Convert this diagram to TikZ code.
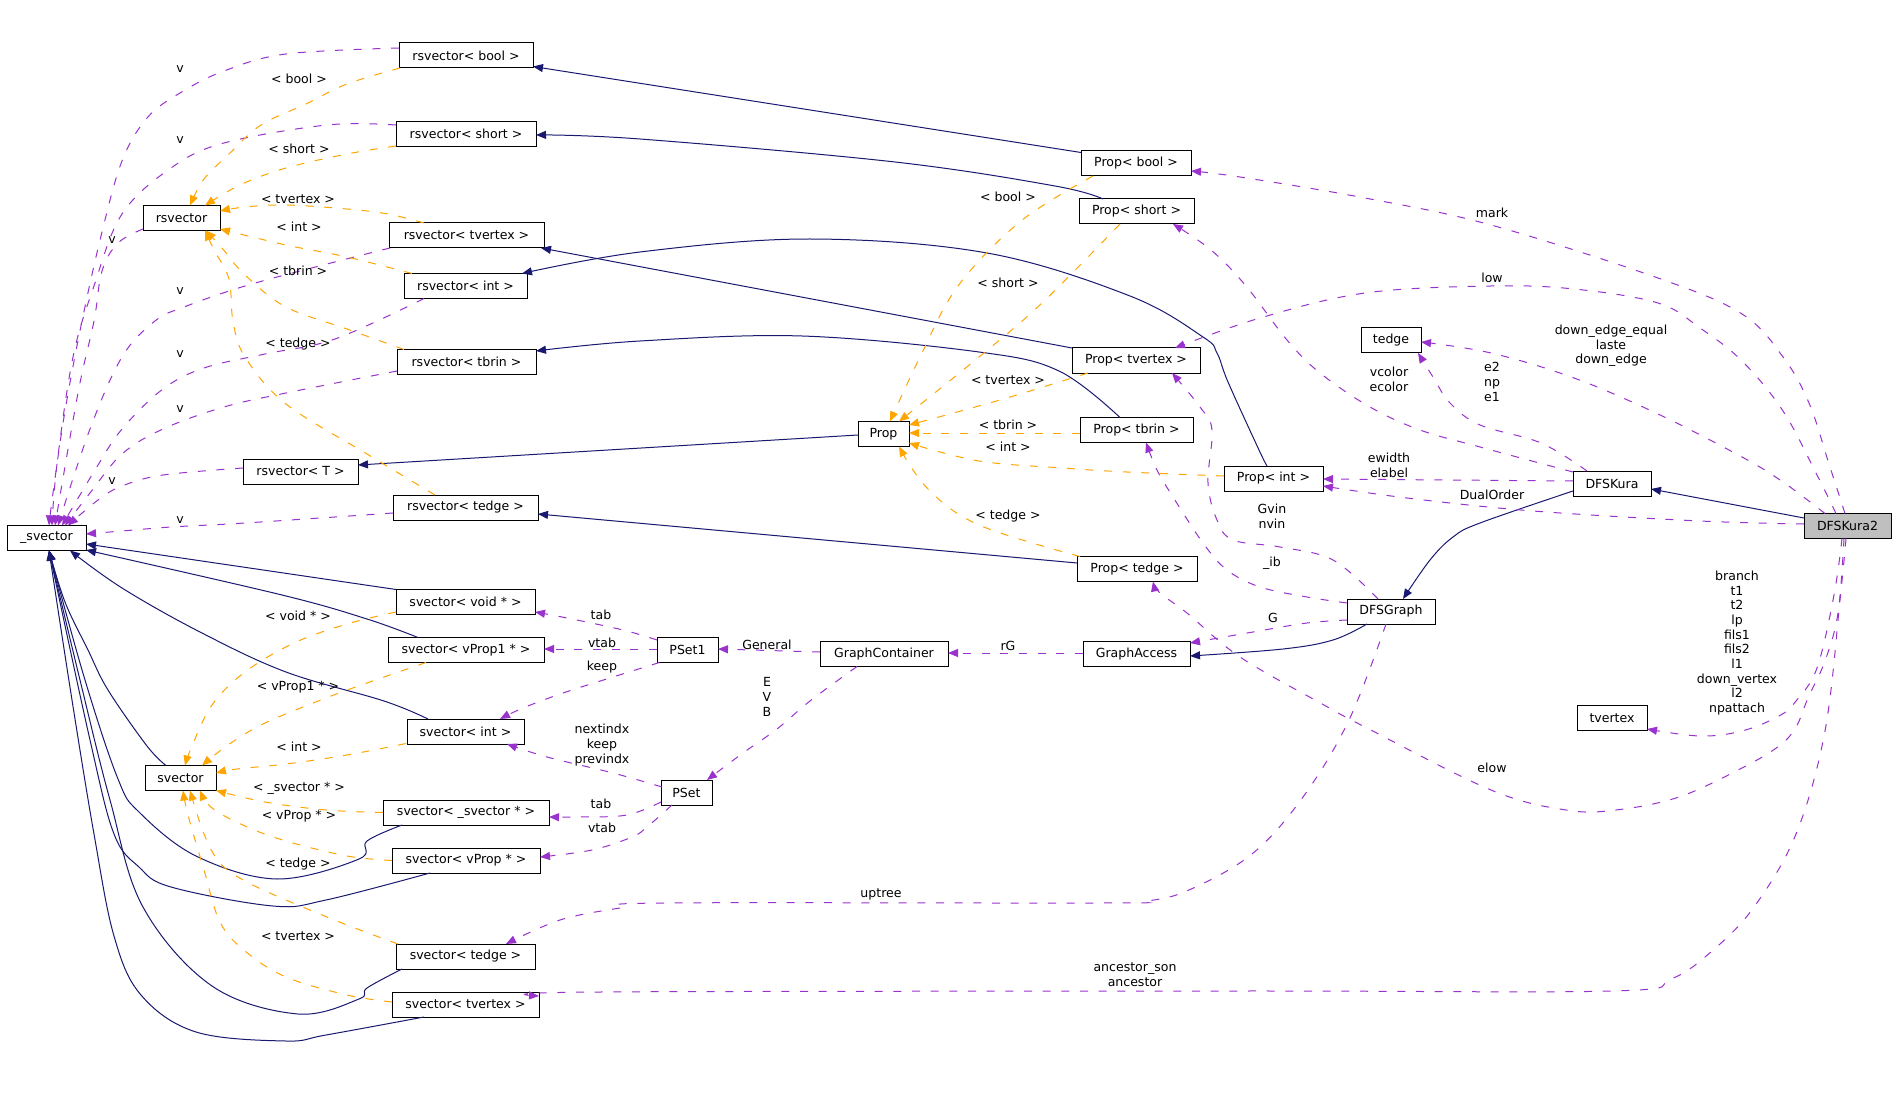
\documentclass[tikz,border=0pt]{standalone}
\usepackage{fontspec}
\setmainfont{DejaVu Sans}
\usetikzlibrary{arrows.meta}
\definecolor{navy}{RGB}{25,25,112}
\definecolor{purp}{RGB}{154,50,205}
\definecolor{orng}{RGB}{255,165,0}
\definecolor{grayfill}{RGB}{191,191,191}
\begin{document}
\begin{tikzpicture}[x=0.75pt,y=-0.75pt,
 cls/.style={draw=black,line width=0.75pt,minimum height=18.75pt,inner sep=0pt,font=\fontsize{9.4}{11}\selectfont},
 bw/.style={minimum width=#1*0.75pt},
 lab/.style={inner sep=0pt,align=center,font=\fontsize{9.4}{11}\selectfont},
 inh/.style={draw=navy,line width=0.75pt,-{Triangle[length=7.5pt,width=6pt]}},
 use/.style={draw=purp,line width=0.75pt,dash pattern=on 6pt off 8pt,-{Triangle[length=7.5pt,width=6pt]}},
 tmpl/.style={draw=orng,line width=0.75pt,dash pattern=on 6pt off 8pt,-{Triangle[length=7.5pt,width=6pt]}},
 sm/.style={smooth,tension=0.6}]
\fill[white] (0,0) rectangle (1896,1116);
\useasboundingbox (0,0) rectangle (1896,1116);
% nodes
\node[cls,bw=134] (rsvbool) at (466,55.5) {rsvector< bool >};
\node[cls,bw=140] (rsvshort) at (466,134) {rsvector< short >};
\node[cls,bw=77] (rsv) at (181.5,218) {rsvector};
\node[cls,bw=155] (rsvtv) at (466.5,235.5) {rsvector< tvertex >};
\node[cls,bw=123] (rsvint) at (465.5,286) {rsvector< int >};
\node[cls,bw=139] (rsvtb) at (466.5,362) {rsvector< tbrin >};
\node[cls,bw=115] (rsvT) at (300.5,471.5) {rsvector< T >};
\node[cls,bw=145] (rsvte) at (465.5,507.5) {rsvector< tedge >};
\node[cls,bw=79] (usv) at (46.5,538) {\_svector};
\node[cls,bw=139] (svvoid) at (465.5,602) {svector< void * >};
\node[cls,bw=156] (svvp1) at (466,650) {svector< vProp1 * >};
\node[cls,bw=117] (svint) at (465.5,731.5) {svector< int >};
\node[cls,bw=71] (sv) at (180.5,778) {svector};
\node[cls,bw=166] (svsv) at (466,812.5) {svector< \_svector * >};
\node[cls,bw=148] (svvp) at (466,860.5) {svector< vProp * >};
\node[cls,bw=139] (svte) at (465.5,956.5) {svector< tedge >};
\node[cls,bw=147] (svtv) at (465.5,1004.5) {svector< tvertex >};
\node[cls,bw=110] (pbool) at (1136,163.5) {Prop< bool >};
\node[cls,bw=115] (pshort) at (1136.5,211.5) {Prop< short >};
\node[cls,bw=128] (ptv) at (1136,360.5) {Prop< tvertex >};
\node[cls,bw=51] (prop) at (883.5,434) {Prop};
\node[cls,bw=113] (ptb) at (1136.5,430) {Prop< tbrin >};
\node[cls,bw=99] (pint) at (1273.5,478.5) {Prop< int >};
\node[cls,bw=120] (pte) at (1137,569) {Prop< tedge >};
\node[cls,bw=61] (pset1) at (687.5,650) {PSet1};
\node[cls,bw=128] (gc) at (884,654) {GraphContainer};
\node[cls,bw=107] (ga) at (1136.5,654) {GraphAccess};
\node[cls,bw=51] (pset) at (686.5,792.5) {PSet};
\node[cls,bw=60] (tedge) at (1391,340.5) {tedge};
\node[cls,bw=78] (dk) at (1612,483.5) {DFSKura};
\node[cls,bw=87,fill=grayfill] (dk2) at (1847.5,526) {DFSKura2};
\node[cls,bw=88] (dg) at (1391,611.5) {DFSGraph};
\node[cls,bw=70] (tvertex) at (1612,718) {tvertex};
% inheritance (navy)
\draw[inh] ([shift={(-55,-11)}]pbool.center) -- ([shift={(67,11)}]rsvbool.center);
\draw[inh] plot[sm] coordinates {([shift={(-33.5,-12.5)}]pshort.center) (1055,186) (895,162) (640,139) ([shift={(70,1)}]rsvshort.center)};
\draw[inh] ([shift={(-64,-12.5)}]ptv.center) -- ([shift={(74.5,12.5)}]rsvtv.center);
\draw[inh] plot[sm] coordinates {([shift={(-6.5,-12.5)}]pint.center) (1259,450) (1228,382) (1217,353) (1203,337) (1130,296) (987,253) (810,239) (640,252) ([shift={(56.5,-12.5)}]rsvint.center)};
\draw[inh] plot[sm] coordinates {([shift={(-16.5,-12.5)}]ptb.center) (1059,371) (979,352) (802,336) (640,341) ([shift={(69.5,-11)}]rsvtb.center)};
\draw[inh] ([shift={(-25.5,1)}]prop.center) -- ([shift={(57.5,-6.5)}]rsvT.center);
\draw[inh] ([shift={(-60,-6)}]pte.center) -- ([shift={(72.5,6.5)}]rsvte.center);
\draw[inh] ([shift={(-43.5,-8)}]dk2.center) -- ([shift={(39,5.5)}]dk.center);
\draw[inh] plot[sm] coordinates {([shift={(-39,7.5)}]dk.center) (1480,523) (1453,537) (1430,560) ([shift={(12,-12.5)}]dg.center)};
\draw[inh] plot[sm] coordinates {([shift={(-24,12.5)}]dg.center) (1333,640) (1283,649) ([shift={(53.5,2)}]ga.center)};
\draw[inh] plot[sm] coordinates {([shift={(-14.5,-12.5)}]sv.center) (147,746) (108,690) (88,650) (65,602) ([shift={(2.5,12.5)}]usv.center)};
\draw[inh] ([shift={(-69.5,-12.5)}]svvoid.center) -- ([shift={(39.5,6)}]usv.center);
\draw[inh] plot[sm] coordinates {([shift={(-48,-12.5)}]svvp1.center) (367,619) (282,595) ([shift={(39.5,12)}]usv.center)};
\draw[inh] plot[sm] coordinates {([shift={(-37.5,-12.5)}]svint.center) (384,701) (286,672) (200,632) (122,588) ([shift={(23.5,12.5)}]usv.center)};
\draw[inh] plot[sm] coordinates {([shift={(-64,12.5)}]svsv.center) (367,841) (359,859) (277,879) (196,856) (139,812) (118,779) (85,680) ([shift={(2.5,12.5)}]usv.center)};
\draw[inh] plot[sm] coordinates {([shift={(-36,12.5)}]svvp.center) (326,900) (273,906) (171,887) (139,867) (114,834) (90,740) ([shift={(2.5,12.5)}]usv.center)};
\draw[inh] plot[sm] coordinates {([shift={(-63.5,12.5)}]svte.center) (367,988) (359,999) (298,1014) (212,986) (143,907) (110,800) (80,680) ([shift={(2.5,12.5)}]usv.center)};
\draw[inh] plot[sm] coordinates {([shift={(-41.5,12.5)}]svtv.center) (326,1035) (286,1041) (196,1032) (141,995) (114,936) (94,834) (72,700) ([shift={(2.5,12.5)}]usv.center)};
% usage v -> _svector
\draw[use] plot[sm] coordinates {([shift={(-67,-7.5)}]rsvbool.center) (286,54) (224,71) (180,93) (147,118) (122,161) (102,232) (82,321) (65,411) (53,493) ([shift={(2.5,-12.5)}]usv.center)};
\draw[use] plot[sm] coordinates {([shift={(-70,-9)}]rsvshort.center) (327,125) (224,143) (171,168) (122,214) (94,286) (73,357) (57,464) ([shift={(5.5,-12.5)}]usv.center)};
\draw[use] plot[sm] coordinates {([shift={(-38.5,11)}]rsv.center) (118,243) (102,271) (94,321) (78,393) ([shift={(8.5,-12.5)}]usv.center)};
\draw[use] plot[sm] coordinates {([shift={(-76.5,12.5)}]rsvtv.center) (327,264) (245,286) (184,307) (155,321) (122,357) (90,429) ([shift={(11.5,-12.5)}]usv.center)};
\draw[use] plot[sm] coordinates {([shift={(-41.5,12.5)}]rsvint.center) (335,339) (265,354) (204,368) (163,389) (122,429) (95,470) ([shift={(15.5,-12.5)}]usv.center)};
\draw[use] plot[sm] coordinates {([shift={(-69.5,9)}]rsvtb.center) (286,393) (224,407) (163,429) (122,454) (90,493) ([shift={(18.5,-12.5)}]usv.center)};
\draw[use] plot[sm] coordinates {([shift={(-57.5,-3.5)}]rsvT.center) (163,475) (122,486) (98,500) ([shift={(21.5,-12.5)}]usv.center)};
\draw[use] plot[sm] coordinates {([shift={(-72.5,5.5)}]rsvte.center) (245,523) (171,527) (122,531) ([shift={(39.5,-4)}]usv.center)};
\node[lab] (lv1) at (180,69) {v};
\node[lab] (lv2) at (180,140) {v};
\node[lab] (lv3) at (112,240) {v};
\node[lab] (lv4) at (180,291) {v};
\node[lab] (lv5) at (180,354) {v};
\node[lab] (lv6) at (180,409) {v};
\node[lab] (lv7) at (112,481) {v};
\node[lab] (lv8) at (180,520) {v};
% template -> rsvector
\draw[tmpl] plot[sm] coordinates {([shift={(-66,12.5)}]rsvbool.center) (347,84) (306,104) (261,125) (229,154) (204,179) ([shift={(8.5,-12.5)}]rsv.center)};
\draw[tmpl] plot[sm] coordinates {([shift={(-70,12)}]rsvshort.center) (347,154) (286,168) (240,185) ([shift={(23.5,-12.5)}]rsv.center)};
\draw[tmpl] plot[sm] coordinates {([shift={(-42.5,-12.5)}]rsvtv.center) (388,214) (347,209) (286,205) (245,207) ([shift={(38.5,-7)}]rsv.center)};
\draw[tmpl] plot[sm] coordinates {([shift={(-53.5,-12.5)}]rsvint.center) (347,257) (286,245) ([shift={(38.5,11)}]rsv.center)};
\draw[tmpl] plot[sm] coordinates {([shift={(-62.5,-12.5)}]rsvtb.center) (347,329) (286,307) (245,275) (222,248) ([shift={(24.5,12.5)}]rsv.center)};
\draw[tmpl] plot[sm] coordinates {([shift={(-30.5,-12.5)}]rsvte.center) (367,454) (286,404) (245,357) (233,321) (229,279) (214,250) ([shift={(23.5,12.5)}]rsv.center)};
\node[lab] (lr1) at (299,79) {< bool >};
\node[lab] (lr2) at (299,149) {< short >};
\node[lab] (lr3) at (298,199) {< tvertex >};
\node[lab] (lr4) at (299,227) {< int >};
\node[lab] (lr5) at (298,271) {< tbrin >};
\node[lab] (lr6) at (298,344) {< tedge >};
% template -> svector
\draw[tmpl] plot[sm] coordinates {([shift={(-69.5,10)}]svvoid.center) (347,624) (294,643) (245,672) (212,705) (192,746) ([shift={(4.5,-12.5)}]sv.center)};
\draw[tmpl] plot[sm] coordinates {([shift={(-40,12.5)}]svvp1.center) (367,683) (326,698) (265,723) (228,745) ([shift={(21.5,-12.5)}]sv.center)};
\draw[tmpl] plot[sm] coordinates {([shift={(-59.5,12)}]svint.center) (347,755) (286,764) (237,769) ([shift={(35.5,-5)}]sv.center)};
\draw[tmpl] plot[sm] coordinates {([shift={(-83,0)}]svsv.center) (326,810) (265,802) ([shift={(35.5,12.5)}]sv.center)};
\draw[tmpl] plot[sm] coordinates {([shift={(-74,0)}]svvp.center) (347,856) (286,841) (245,826) (212,808) ([shift={(19.5,12.5)}]sv.center)};
\draw[tmpl] plot[sm] coordinates {([shift={(-67.5,-12.5)}]svte.center) (347,925) (286,900) (245,881) (220,863) (204,834) ([shift={(9.5,12.5)}]sv.center)};
\draw[tmpl] plot[sm] coordinates {([shift={(-73.5,-2.5)}]svtv.center) (347,995) (286,977) (245,951) (220,922) (204,870) (188,815) ([shift={(2.5,12.5)}]sv.center)};
\node[lab] (ls1) at (298,616) {< void * >};
\node[lab] (ls2) at (298,687) {< vProp1 * >};
\node[lab] (ls3) at (299,747) {< int >};
\node[lab] (ls4) at (299,788) {< \_svector * >};
\node[lab] (ls5) at (299,816) {< vProp * >};
\node[lab] (ls6) at (298,864) {< tedge >};
\node[lab] (ls7) at (298,936) {< tvertex >};
% template -> Prop
\draw[tmpl] plot[sm] coordinates {([shift={(-43,12.5)}]pbool.center) (1021,221) (958,286) (920,357) ([shift={(6.5,-12.5)}]prop.center)};
\draw[tmpl] plot[sm] coordinates {([shift={(-16.5,12.5)}]pshort.center) (1042,303) (979,357) ([shift={(15.5,-12.5)}]prop.center)};
\draw[tmpl] plot[sm] coordinates {([shift={(-48,12.5)}]ptv.center) (1000,400) ([shift={(25.5,-9)}]prop.center)};
\draw[tmpl] ([shift={(-56.5,3)}]ptb.center) -- ([shift={(25.5,-1)}]prop.center);
\draw[tmpl] plot[sm] coordinates {([shift={(-49.5,-2.5)}]pint.center) (1127,472) (1063,468) (979,461) ([shift={(25.5,9)}]prop.center)};
\draw[tmpl] plot[sm] coordinates {([shift={(-57,-12.5)}]pte.center) (979,525) (928,489) ([shift={(15.5,12.5)}]prop.center)};
\node[lab] (lp1) at (1008,197) {< bool >};
\node[lab] (lp2) at (1008,283) {< short >};
\node[lab] (lp3) at (1008,380) {< tvertex >};
\node[lab] (lp4) at (1008,425) {< tbrin >};
\node[lab] (lp5) at (1008,447) {< int >};
\node[lab] (lp6) at (1008,516) {< tedge >};
% usage (purple)
\draw[use] plot[sm] coordinates {([shift={(-30.5,-10)}]pset1.center) (623,630) (567,618) ([shift={(69.5,10)}]svvoid.center)};
\draw[use] ([shift={(-30.5,-1)}]pset1.center) -- ([shift={(78,-1)}]svvp1.center);
\draw[use] plot[sm] coordinates {([shift={(-28,12.5)}]pset1.center) (613,677) (563,693) (523,708) ([shift={(34.5,-12.5)}]svint.center)};
\draw[use] plot[sm] coordinates {([shift={(-24.5,-5.5)}]pset.center) (613,773) (547,757) ([shift={(41.5,12.5)}]svint.center)};
\draw[use] plot[sm] coordinates {([shift={(-25.5,9.5)}]pset.center) (627,815) (580,817) ([shift={(83,4.5)}]svsv.center)};
\draw[use] plot[sm] coordinates {([shift={(-14.5,12.5)}]pset.center) (647,827) (632,837) (592,850) ([shift={(74,-3.5)}]svvp.center)};
\draw[use] ([shift={(-64,-2)}]gc.center) -- ([shift={(30.5,-1)}]pset1.center);
\draw[use] plot[sm] coordinates {([shift={(-27,12.5)}]gc.center) (810,701) (777,729) (743,753) ([shift={(20.5,-12.5)}]pset.center)};
\draw[use] ([shift={(-53.5,-1)}]ga.center) -- ([shift={(64,-1)}]gc.center);
\draw[use] plot[sm] coordinates {([shift={(-44,8.5)}]dg.center) (1307,623) (1253,632) ([shift={(53.5,-11)}]ga.center)};
\draw[use] plot[sm] coordinates {([shift={(-13,-12.5)}]dg.center) (1333,560) (1280,547) (1233,540) (1217,520) (1208,483) (1212,430) (1200,407) ([shift={(36,12.5)}]ptv.center)};
\draw[use] plot[sm] coordinates {([shift={(-44,-8.5)}]dg.center) (1307,597) (1260,587) (1227,570) (1203,543) (1173,497) (1157,470) ([shift={(9.5,12.5)}]ptb.center)};
\draw[use] plot[sm] coordinates {([shift={(-5,12.5)}]dg.center) (1349,720) (1303,797) (1252,854) (1189,890) (1147,901) (1100,903) (663,903) (620,908) (560,920) ([shift={(40.5,-12.5)}]svte.center)};
\draw[use] plot[sm] coordinates {([shift={(-1.5,12.5)}]dk2.center) (1840,600) (1825,731) (1796,834) (1754,907) (1712,951) (1671,979) (1612,991) (1240,991) (600,992) ([shift={(73.5,-8.5)}]svtv.center)};
\draw[use] plot[sm] coordinates {([shift={(-5.5,12.5)}]dk2.center) (1834,595) (1817,668) (1796,701) (1779,716) (1742,731) (1700,736) ([shift={(35,11)}]tvertex.center)};
\draw[use] plot[sm] coordinates {([shift={(-3.5,12.5)}]dk2.center) (1838,613) (1825,661) (1808,698) (1796,727) (1779,746) (1742,768) (1679,797) (1616,810) (1566,810) (1491,790) (1365,727) (1324,705) (1240,657) (1187,613) (1160,593) ([shift={(16,12.5)}]pte.center)};
\draw[use] plot[sm] coordinates {([shift={(-2.5,-12.5)}]dk2.center) (1829,464) (1809,403) (1783,357) (1742,314) (1658,278) (1491,225) (1365,198) (1240,177) ([shift={(55,7.5)}]pbool.center)};
\draw[use] plot[sm] coordinates {([shift={(-11.5,-12.5)}]dk2.center) (1817,475) (1783,411) (1742,361) (1700,328) (1658,303) (1574,289) (1491,286) (1365,293) (1260,318) ([shift={(39,-12.5)}]ptv.center)};
\draw[use] plot[sm] coordinates {([shift={(-22.5,-12.5)}]dk2.center) (1783,482) (1742,457) (1658,414) (1574,378) (1491,353) ([shift={(30,1.5)}]tedge.center)};
\draw[use] plot[sm] coordinates {([shift={(-25,-12.5)}]dk.center) (1541,443) (1480,425) (1450,403) (1433,377) ([shift={(27,12.5)}]tedge.center)};
\draw[use] plot[sm] coordinates {([shift={(-39,-11.5)}]dk.center) (1480,447) (1420,430) (1370,407) (1320,373) (1287,340) (1246,286) (1211,250) ([shift={(36.5,12.5)}]pshort.center)};
\draw[use] ([shift={(-39,-2.5)}]dk.center) -- ([shift={(49.5,0.5)}]pint.center);
\draw[use] plot[sm] coordinates {([shift={(-43.5,-2)}]dk2.center) (1700,521) (1533,511) (1407,498) ([shift={(49.5,7.5)}]pint.center)};
% usage labels
\node[lab] (lu1) at (601,615) {tab};
\node[lab] (lu2) at (602,643) {vtab};
\node[lab] (lu3) at (602,667) {keep};
\node[lab] (lu4) at (602,745) {nextindx\\keep\\previndx};
\node[lab] (lu5) at (601,804) {tab};
\node[lab] (lu6) at (602,828) {vtab};
\node[lab] (lu7) at (767,645) {General};
\node[lab] (lu8) at (767,697) {E\\V\\B};
\node[lab] (lu9) at (1008,646) {rG};
\node[lab] (lu10) at (1273,618) {G};
\node[lab] (lu11) at (1272,516) {Gvin\\nvin};
\node[lab] (lu12) at (1272,563) {\_ib};
\node[lab] (lu13) at (881,894) {uptree};
\node[lab] (lu14) at (1135,975) {ancestor\_son\\ancestor};
\node[lab] (lu15) at (1737,643) {branch\\t1\\t2\\lp\\fils1\\fils2\\l1\\down\_vertex\\l2\\npattach};
\node[lab] (lu16) at (1492,768) {elow};
\node[lab] (lu17) at (1492,213) {mark};
\node[lab] (lu18) at (1492,278) {low};
\node[lab] (lu19) at (1611,346) {down\_edge\_equal\\laste\\down\_edge};
\node[lab] (lu20) at (1492,382) {e2\\np\\e1};
\node[lab] (lu21) at (1389,379) {vcolor\\ecolor};
\node[lab] (lu22) at (1389,465) {ewidth\\elabel};
\node[lab] (lu23) at (1492,495) {DualOrder};
\end{tikzpicture}
\end{document}
